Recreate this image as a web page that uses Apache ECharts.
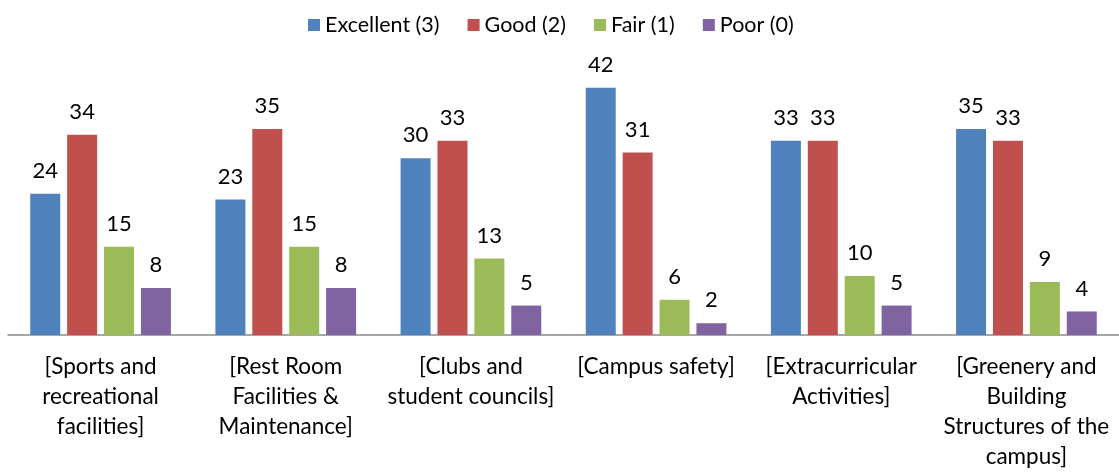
<!DOCTYPE html>
<html>
<head>
<meta charset="utf-8">
<script src="https://cdn.jsdelivr.net/npm/echarts@6/dist/echarts.min.js"></script>
<style>
  html, body { margin: 0; padding: 0; background: #fff; }
  #myChart { width: 1119px; height: 473px; }
</style>
</head>
<body>
<div id="myChart"></div>
<script>
// categories (line breaks as in the original chart)
var categories = [
  '[Sports and\nrecreational\nfacilities]',
  '[Rest Room\nFacilities &\nMaintenance]',
  '[Clubs and\nstudent councils]',
  '[Campus safety]',
  '[Extracurricular\nActivities]',
  '[Greenery and\nBuilding\nStructures of the\ncampus]'
]
var seriesNames = ['Excellent (3)', 'Good (2)', 'Fair (1)', 'Poor (0)']
var excellent = [24, 23, 30, 42, 33, 35]
var good = [34, 35, 33, 31, 33, 33]
var fair = [15, 15, 13, 6, 10, 9]
var poor = [8, 8, 5, 2, 5, 4]
var colors = ['#4F81BD', '#C0504D', '#9BBB59', '#8064A2']

var font = 'Lato, "Open Sans", sans-serif'
var myChart = echarts.init(document.getElementById('myChart'))

function makeSeries(name, data, color) {
  return {
    name: name,
    type: 'bar',
    data: data,
    barWidth: 30,
    barGap: '23%',
    itemStyle: { color: color },
    label: {
      show: true,
      position: 'top',
      distance: 12,
      color: '#000',
      fontFamily: font,
      fontSize: 22
    },
    animation: false
  }
}

myChart.setOption({
  color: colors,
  legend: {
    top: 9,
    left: 303,
    itemWidth: 12,
    itemHeight: 12,
    itemGap: 28,
    icon: 'rect',
    textStyle: { fontFamily: font, fontSize: 21.5, color: '#000' },
    data: seriesNames
  },
  grid: {
    left: 8,
    right: 0,
    top: 70,
    bottom: 138,
    containLabel: false
  },
  xAxis: {
    type: 'category',
    data: categories,
    axisTick: { show: false },
    axisLine: { lineStyle: { color: '#8a8a8a', width: 1.5 } },
    axisLabel: {
      interval: 0,
      margin: 17,
      color: '#000',
      fontFamily: font,
      fontSize: 22.5,
      lineHeight: 30,
      align: 'center'
    }
  },
  yAxis: {
    type: 'value',
    min: 0,
    max: 45,
    show: false,
    splitLine: { show: false }
  },
  series: [
    makeSeries(seriesNames[0], excellent, colors[0]),
    makeSeries(seriesNames[1], good, colors[1]),
    makeSeries(seriesNames[2], fair, colors[2]),
    makeSeries(seriesNames[3], poor, colors[3])
  ]
})
</script>
</body>
</html>
